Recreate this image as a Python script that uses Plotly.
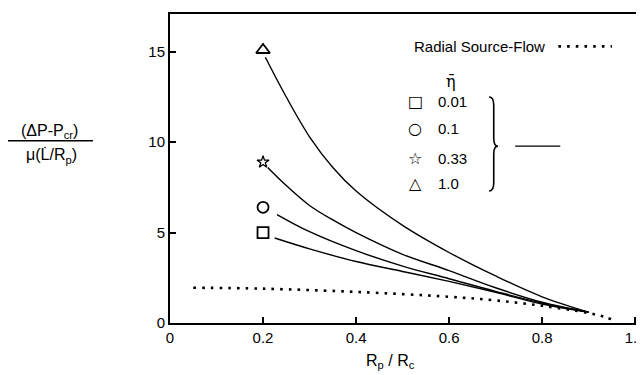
import plotly.graph_objects as go

# ---- data ----
eta_labels = ["0.01", "0.1", "0.33", "1.0"]
marker_symbols = ["square-open", "circle-open", "star-open", "triangle-up-open"]
marker_x = [0.2, 0.2, 0.2, 0.2]
marker_y = [5.0, 6.4, 8.9, 15.1]

x_sq = [0.225, 0.3, 0.4, 0.5, 0.6, 0.7, 0.8, 0.9]
y_sq = [4.7, 4.1, 3.4, 2.85, 2.3, 1.7, 1.05, 0.6]

x_ci = [0.23, 0.3, 0.4, 0.5, 0.6, 0.7, 0.8, 0.9]
y_ci = [6.0, 5.05, 4.0, 3.15, 2.45, 1.75, 1.1, 0.6]

x_st = [0.21, 0.25, 0.3, 0.35, 0.4, 0.5, 0.6, 0.7, 0.8, 0.9]
y_st = [8.6, 7.6, 6.5, 5.7, 5.0, 3.8, 2.9, 1.95, 1.15, 0.6]

x_tr = [0.205, 0.25, 0.3, 0.35, 0.4, 0.5, 0.6, 0.7, 0.8, 0.9]
y_tr = [14.7, 12.5, 10.3, 8.6, 7.3, 5.4, 3.9, 2.6, 1.45, 0.6]

x_src = [0.05, 0.2, 0.4, 0.6, 0.7, 0.8, 0.9, 0.935, 0.953]
y_src = [1.95, 1.9, 1.72, 1.45, 1.25, 0.95, 0.55, 0.33, 0.17]

x_ticks = [0, 0.2, 0.4, 0.6, 0.8, 1.0]
x_ticktext = ["0", "0.2", "0.4", "0.6", "0.8", "1.0"]
y_ticks = [0, 5, 10, 15]
y_ticktext = ["0", "5", "10", "15"]

FONT = "Liberation Sans"
fig = go.Figure()

# source-flow dotted curve
fig.add_trace(go.Scatter(x=x_src, y=y_src, mode="lines", line_shape="spline",
                         line=dict(color="black", width=2.6, dash="2.6px,6.1px"),
                         showlegend=False, hoverinfo="skip"))

for xs, ys in [(x_sq, y_sq), (x_ci, y_ci), (x_st, y_st), (x_tr, y_tr)]:
    fig.add_trace(go.Scatter(x=xs, y=ys, mode="lines", line_shape="spline",
                             line=dict(color="black", width=1.4),
                             showlegend=False))

marker_sizes = [11, 11, 9, 12]
for i in range(4):
    fig.add_trace(go.Scatter(x=[marker_x[i]], y=[marker_y[i]], mode="markers",
                             marker=dict(symbol=marker_symbols[i], size=marker_sizes[i],
                                         color="black",
                                         line=dict(width=1.3 if i == 2 else 1.8, color="black")),
                             showlegend=False))

annotations = []
shapes = []

# in-plot legend
annotations.append(dict(x=0.52, y=15.3, xref="x", yref="y", text="Radial Source-Flow",
                        showarrow=False, xanchor="left", yanchor="middle",
                        font=dict(size=15, family=FONT, color="black")))
shapes.append(dict(type="line", xref="x", yref="y", x0=0.835, x1=0.95, y0=15.3, y1=15.3,
                   line=dict(color="black", width=2.6, dash="2.6px,6.1px")))
annotations.append(dict(x=0.604, y=13.35, xref="x", yref="y", text="η̄",
                        showarrow=False, font=dict(size=16, family="DejaVu Serif", color="black")))
legend_rows = [12.25, 10.77, 9.12, 7.69]
glyphs = ["□", "○", "☆", "△"]
for i in range(4):
    annotations.append(dict(x=0.527, y=legend_rows[i], xref="x", yref="y", text=glyphs[i],
                            showarrow=False, xanchor="center", yanchor="middle",
                            font=dict(size=16, family="DejaVu Sans", color="black")))
    annotations.append(dict(x=0.572, y=legend_rows[i], xref="x", yref="y", text=eta_labels[i],
                            showarrow=False, xanchor="left", yanchor="middle",
                            font=dict(size=15, family=FONT, color="black")))
# brace
x0, x1, x2 = 0.686, 0.696, 0.705
yt, ym, yb, r = 12.5, 9.78, 7.3, 0.45
path = (f"M {x0},{yt} Q {x1},{yt} {x1},{yt - r} L {x1},{ym + r} Q {x1},{ym} {x2},{ym} "
        f"Q {x1},{ym} {x1},{ym - r} L {x1},{yb + r} Q {x1},{yb} {x0},{yb}")
shapes.append(dict(type="path", xref="x", yref="y", path=path,
                   line=dict(color="black", width=1.6)))
shapes.append(dict(type="line", xref="x", yref="y", x0=0.742, x1=0.839, y0=9.78, y1=9.78,
                   line=dict(color="black", width=1.4)))

# axis titles
annotations.append(dict(x=0.473, y=-0.125, xref="paper", yref="paper",
                        xanchor="center", yanchor="middle",
                        text="R<sub>p</sub> / R<sub>c</sub>", showarrow=False,
                        font=dict(size=16, family=FONT, color="black")))
annotations.append(dict(x=-0.257, y=0.62, xref="paper", yref="paper",
                        xanchor="center", yanchor="middle",
                        text="(ΔP-P<sub>cr</sub>)", showarrow=False,
                        font=dict(size=16, family=FONT, color="black")))
annotations.append(dict(x=-0.253, y=0.542, xref="paper", yref="paper",
                        xanchor="center", yanchor="middle",
                        text="μ(L̇/R<sub>p</sub>)", showarrow=False,
                        font=dict(size=16, family=FONT, color="black")))
shapes.append(dict(type="line", xref="paper", yref="paper", x0=-0.349, x1=-0.165,
                   y0=0.59, y1=0.59, line=dict(color="black", width=1.4)))

# the page adds an 8px body margin, so the figure is placed to compensate
fig.update_layout(
    width=644, height=367,
    margin=dict(l=162, r=15, t=4, b=52),
    paper_bgcolor="white", plot_bgcolor="white",
    font=dict(family=FONT, size=14, color="black"),
    annotations=annotations, shapes=shapes,
    xaxis=dict(range=[0, 1.004], tickvals=x_ticks, ticktext=x_ticktext,
               ticks="inside", ticklen=6, tickwidth=1.5, tickcolor="black",
               showline=True, mirror=True, linewidth=2, linecolor="black",
               showgrid=False, zeroline=False, tickfont=dict(size=15)),
    yaxis=dict(range=[0, 17.09], tickvals=y_ticks, ticktext=y_ticktext,
               ticks="inside", ticklen=6, tickwidth=1.5, tickcolor="black",
               showline=True, mirror=True, linewidth=2, linecolor="black",
               showgrid=False, zeroline=False, tickfont=dict(size=15)),
)

fig.write_html("out.html")
